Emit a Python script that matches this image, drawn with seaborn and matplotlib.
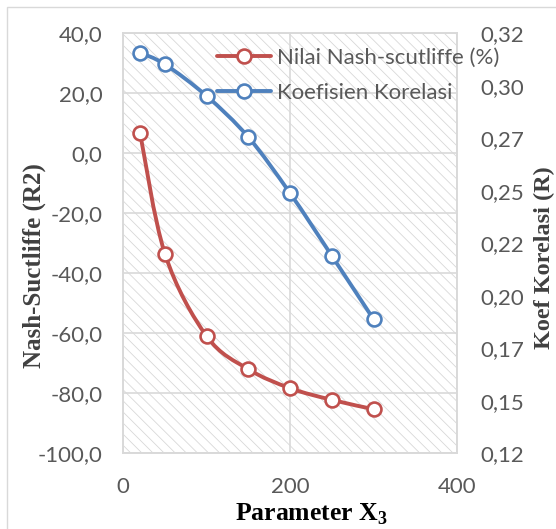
import numpy as np
import seaborn as sns
import matplotlib.pyplot as plt
from matplotlib.path import Path
from matplotlib.patches import PathPatch, Rectangle
from matplotlib.lines import Line2D

# data
x3 = [20, 50, 100, 150, 200, 250, 300]
nash = [6.9, -33.6, -61.0, -72.0, -78.3, -82.2, -85.3]
korelasi = [0.3158, 0.3102, 0.2951, 0.2755, 0.2488, 0.2190, 0.1888]

left_ticks = [-100, -80, -60, -40, -20, 0, 20, 40]
left_labels = ["-100,0", "-80,0", "-60,0", "-40,0", "-20,0", "0,0", "20,0", "40,0"]
right_ticks = [0.125, 0.15, 0.175, 0.2, 0.225, 0.25, 0.275, 0.3, 0.325]
right_labels = ["0,12", "0,15", "0,17", "0,20", "0,22", "0,25", "0,27", "0,30", "0,32"]
x_ticks = [0, 200, 400]

red = "#C0504D"
blue = "#4F81BD"
grid = "#d9d9d9"
tick_col = "#595959"

sns.set_theme(style="white")
plt.rcParams["font.family"] = ["Lato", "DejaVu Sans"]
plt.rcParams["hatch.color"] = "#d8d8d8"
plt.rcParams["hatch.linewidth"] = 0.6
plt.rcParams["mathtext.fontset"] = "custom"
plt.rcParams["mathtext.rm"] = "Liberation Serif:bold"
plt.rcParams["mathtext.bf"] = "Liberation Serif:bold"


def smooth_path(xs, ys):
    # excel style smoothed line (catmull-rom as cubic bezier)
    p = np.column_stack([xs, ys]).astype(float)
    n = len(p)
    verts = [p[0]]
    codes = [Path.MOVETO]
    for i in range(n - 1):
        p0 = p[max(i - 1, 0)]
        p3 = p[min(i + 2, n - 1)]
        c1 = p[i] + (p[i + 1] - p0) / 6
        c2 = p[i + 1] - (p3 - p[i]) / 6
        verts += [c1, c2, p[i + 1]]
        codes += [Path.CURVE4] * 3
    return Path(verts, codes)


fig = plt.figure(figsize=(5.56, 5.29), dpi=100)
ax = fig.add_axes([123.3 / 556, 1 - 453.3 / 529, 333.7 / 556, 420 / 529])
ax2 = ax.twinx()

# hatched plot area
ax.set_facecolor("white")
ax.patch.set_hatch("\\\\\\")
ax.patch.set_edgecolor("#d8d8d8")

ax.set_xticks(x_ticks)
ax.set_xticklabels([str(v) for v in x_ticks])
ax.set_yticks(left_ticks)
ax.set_yticklabels(left_labels)
ax2.set_yticks(right_ticks)
ax2.set_yticklabels(right_labels)

ax.grid(True, color=grid, lw=1.2)
ax.set_axisbelow(True)
for a in (ax, ax2):
    for s in a.spines.values():
        s.set_color(grid)
        s.set_linewidth(1.2)
    a.tick_params(length=0, labelsize=16, labelcolor=tick_col)
ax.tick_params(axis="y", pad=15)
ax.tick_params(axis="x", pad=17)
ax2.tick_params(axis="y", pad=17)

# smoothed lines
ax.add_patch(PathPatch(smooth_path(x3, nash), fill=False, ec=red, lw=2.8,
                       capstyle="round", zorder=3))
ax2.add_patch(PathPatch(smooth_path(x3, korelasi), fill=False, ec=blue, lw=2.8,
                        capstyle="round", zorder=3))

sns.scatterplot(x=x3, y=nash, ax=ax, s=100, color="white", edgecolor=red,
                linewidth=1.9, zorder=4)
sns.scatterplot(x=x3, y=korelasi, ax=ax2, s=100, color="white", edgecolor=blue,
                linewidth=1.9, zorder=4)
ax.set_xlim(0, 400)
ax.set_ylim(-100, 40)
ax2.set_ylim(0.125, 0.325)

# axis titles
ax.set_xlabel(r"Parameter X$_{3}$", fontsize=18.5, fontweight="bold",
              family="Liberation Serif", color="black")
ax.xaxis.set_label_coords(0.565, -0.145)
ax.xaxis.label.set_va("center")
ax.set_ylabel("Nash-Suctliffe (R2)", fontsize=18, fontweight="bold",
              family="Liberation Serif", color="#404040")
ax.yaxis.set_label_coords(-0.268, 0.446)
ax.yaxis.label.set_va("center")
ax2.set_ylabel("Koef Korelasi (R)", fontsize=17.5, fontweight="bold",
               family="Liberation Serif", color="#404040", rotation=90)
ax2.yaxis.set_label_coords(1.262, 0.466)
ax2.yaxis.label.set_va("center")

handles = [
    Line2D([], [], color=red, lw=2.8, marker="o", markersize=10,
           mfc="white", mec=red, mew=1.9),
    Line2D([], [], color=blue, lw=2.8, marker="o", markersize=10,
           mfc="white", mec=blue, mew=1.9),
]
ax2.legend(handles, ["Nilai Nash-scutliffe (%)", "Koefisien Korelasi"],
           loc="upper left", bbox_to_anchor=(217 / 556, 1 - 48 / 529),
           bbox_transform=fig.transFigure, frameon=False, fontsize=16,
           handlelength=2.45, handletextpad=0.25, labelspacing=0.68,
           borderpad=0, borderaxespad=0, numpoints=1, labelcolor=tick_col)

# chart area border
fig.add_artist(Rectangle((7 / 556, -0.1), 1.2, 1 - 7 / 529 + 0.1,
                         transform=fig.transFigure, fill=False,
                         ec=grid, lw=1))

fig.savefig("out.png", dpi=100)
